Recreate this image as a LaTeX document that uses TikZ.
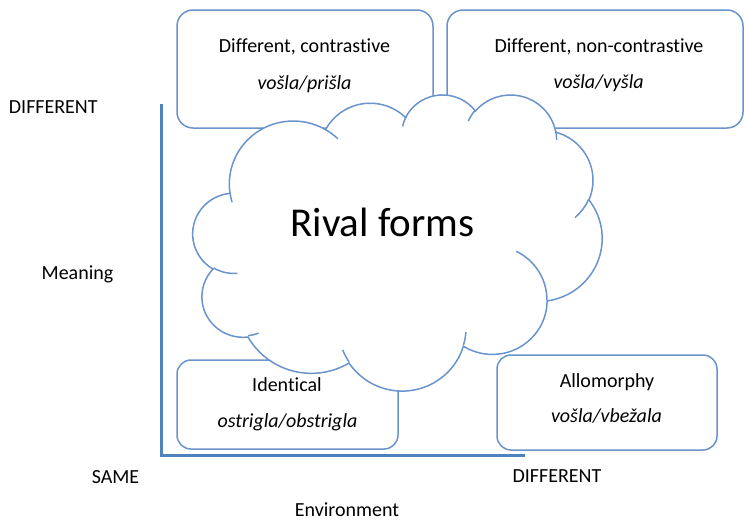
\documentclass[tikz,border=0pt]{standalone}
\usepackage{fontspec}
\setmainfont{Carlito}[RawFeature={-liga}]
\definecolor{boxc}{RGB}{106,148,204}
\definecolor{axisc}{RGB}{79,129,189}
% elliptical arc in DrawingML style (visual angles) -> TikZ parametric angles
\newcommand\arcp[5]{%
  \pgfmathsetmacro\tmpA{atan2((#1)*sin(#3),(#2)*cos(#3))}%
  \pgfmathsetmacro\tmpB{atan2((#1)*sin((#3)+(#4)),(#2)*cos((#3)+(#4)))}%
  \pgfmathsetmacro\tmpD{\tmpB-\tmpA}%
  \pgfmathsetmacro\tmpD{\tmpD+360*(\tmpD<0)}%
  \expandafter\edef\csname cldS#5\endcsname{\tmpA}%
  \expandafter\edef\csname cldD#5\endcsname{\tmpD}%
}
\tikzset{
  box/.style={draw=boxc, line width=1.5pt, rounded corners=16pt, fill=white, inner sep=0pt, outer sep=0pt},
  lbl/.style={font=\fontsize{20}{24}\selectfont, inner sep=0pt, anchor=base},
  ex/.style={lbl, font=\fontsize{20}{24}\selectfont\itshape},
  axisline/.style={draw=axisc, line width=3.5pt},
  cloudline/.style={draw=boxc, line width=1.5pt},
}
\begin{document}
\begin{tikzpicture}[x=1pt, y=-1pt]
\useasboundingbox (0,0) rectangle (745,520);

% axes
\coordinate (ytop) at (161.5,104);
\coordinate (orig) at (161.5,455.5);
\coordinate (xend) at (525,455.5);
\draw[axisline] (ytop) -- (orig) -- (xend);

% boxes
\node[box, minimum width=256pt, minimum height=118pt] (b1) at (305,69) {};
\node[box, minimum width=296pt, minimum height=118pt] (b2) at (595,69) {};
\node[box, minimum width=221pt, minimum height=89pt, rounded corners=14pt] (b3) at (287.5,404.5) {};
\node[box, minimum width=220pt, minimum height=95pt, rounded corners=14pt] (b4) at (607,402.5) {};

% cloud
\begin{scope}[shift={(193pt,-94pt)}, x=0.9468pt, y=-0.6852pt]
\arcp{67.53}{91.90}{-190.48748}{123.78053}{a}
\arcp{53.33}{72.67}{-144.10238}{89.94523}{b}
\arcp{43.65}{59.45}{-145.80792}{99.72302}{c}
\arcp{48.57}{65.95}{-130.98607}{117.24173}{d}
\arcp{53.33}{72.73}{-78.70888}{109.02692}{e}
\arcp{67.75}{92.20}{-46.26725}{130.269}{f}
\arcp{57.85}{78.67}{0.62502}{114.03333}{g}
\arcp{67.52}{92.15}{22.4516}{115.17255}{h}
\arcp{77.20}{105.43}{66.24263}{75.71102}{i}
\arcp{43.60}{59.18}{-274.94208}{146.73557}{j}
\arcp{43.45}{59.45}{-246.8285}{152.51885}{k}
\path[cloudline, fill=white] (39.00,143.70)
  arc[x radius=67.53, y radius=91.90, start angle=\cldSa, delta angle=\cldDa]
  arc[x radius=53.33, y radius=72.67, start angle=\cldSb, delta angle=\cldDb]
  arc[x radius=43.65, y radius=59.45, start angle=\cldSc, delta angle=\cldDc]
  arc[x radius=48.57, y radius=65.95, start angle=\cldSd, delta angle=\cldDd]
  arc[x radius=53.33, y radius=72.73, start angle=\cldSe, delta angle=\cldDe]
  arc[x radius=67.75, y radius=92.20, start angle=\cldSf, delta angle=\cldDf]
  arc[x radius=57.85, y radius=78.67, start angle=\cldSg, delta angle=\cldDg]
  arc[x radius=67.52, y radius=92.15, start angle=\cldSh, delta angle=\cldDh]
  arc[x radius=77.20, y radius=105.43, start angle=\cldSi, delta angle=\cldDi]
  arc[x radius=43.60, y radius=59.18, start angle=\cldSj, delta angle=\cldDj]
  arc[x radius=43.45, y radius=59.45, start angle=\cldSk, delta angle=\cldDk]
  -- cycle;
% inner hooks
\arcp{43.45}{59.45}{86.742}{26.4295}{A}
\draw[cloudline] (46.93,261.77) arc[x radius=43.45, y radius=59.45, start angle=\cldSA, delta angle=\cldDA];
\arcp{43.60}{59.18}{73.6105}{11.4475}{B}
\draw[cloudline] (69.28,348.99) arc[x radius=43.60, y radius=59.18, start angle=\cldSB, delta angle=\cldDB];
\arcp{67.52}{92.15}{137.6242}{14.0811}{C}
\draw[cloudline] (164.78,390.90) arc[x radius=67.52, y radius=92.15, start angle=\cldSC, delta angle=\cldDC];
\arcp{67.52}{92.15}{6.4533}{15.9984}{D}
\draw[cloudline] (288.27,347.51) arc[x radius=67.52, y radius=92.15, start angle=\cldSD, delta angle=\cldDD];
\arcp{57.85}{78.67}{-70.2924}{70.9174}{E}
\draw[cloudline] (341.29,229.54) arc[x radius=57.85, y radius=78.67, start angle=\cldSE, delta angle=\cldDE];
\arcp{53.33}{72.73}{30.3180}{27.7515}{F}
\draw[cloudline] (417.98,153.54) arc[x radius=53.33, y radius=72.73, start angle=\cldSF, delta angle=\cldDF];
\arcp{48.57}{65.95}{-13.7443}{14.8589}{G}
\draw[cloudline] (383.24,54.26) arc[x radius=48.57, y radius=65.95, start angle=\cldSG, delta angle=\cldDG];
\arcp{48.57}{65.95}{-149.1815}{18.1954}{H}
\draw[cloudline] (290.78,39.52) arc[x radius=48.57, y radius=65.95, start angle=\cldSH, delta angle=\cldDH];
\arcp{43.65}{59.45}{-163.4943}{17.6864}{I}
\draw[cloudline] (221.41,47.20) arc[x radius=43.65, y radius=59.45, start angle=\cldSI, delta angle=\cldDI];
\arcp{67.53}{91.90}{-66.7070}{12.3194}{J}
\draw[cloudline] (140.00,51.92) arc[x radius=67.53, y radius=91.90, start angle=\cldSJ, delta angle=\cldDJ];
\arcp{67.53}{91.90}{157.6544}{11.8582}{K}
\draw[cloudline] (41.27,157.89) arc[x radius=67.53, y radius=91.90, start angle=\cldSK, delta angle=\cldDK];
\end{scope}

% texts
\node[lbl] (t1) at (304.5,52.7) {Different, contrastive};
\node[ex]  (e1) at (304.5,89.3) {vošla/prišla};
\node[lbl] (t2) at (599,52.7) {Different, non-contrastive};
\node[ex]  (e2) at (598.6,88.3) {vošla/vyšla};
\node[lbl] (t3) at (287,391.7) {Identical};
\node[ex]  (e3) at (287.5,427) {ostrigla/obstrigla};
\node[lbl] (t4) at (607,387.3) {Allomorphy};
\node[ex]  (e4) at (606.5,422.7) {vošla/vbežala};
\node[lbl, font=\fontsize{41}{48}\selectfont] (rf) at (382.5,236.7) {Rival forms};

\node[lbl] (ydiff) at (53.3,113.3) {DIFFERENT};
\node[lbl] (ylab) at (77.5,279.5) {Meaning};
\node[lbl] (same) at (115.5,483.3) {SAME};
\node[lbl] (xdiff) at (557,482.7) {DIFFERENT};
\node[lbl] (xlab) at (347,516) {Environment};
\end{tikzpicture}
\end{document}
